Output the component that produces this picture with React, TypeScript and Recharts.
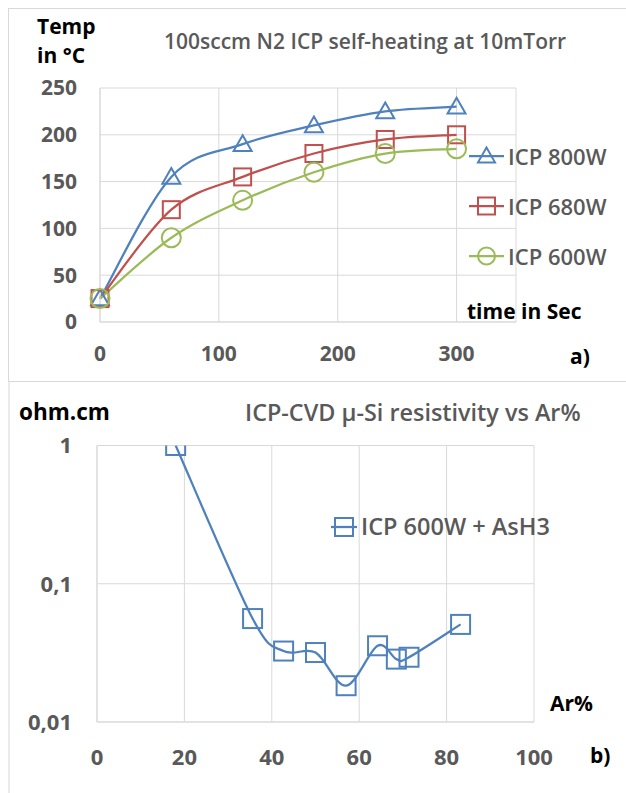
import { LineChart, Line, XAxis, YAxis, CartesianGrid, Legend } from "recharts";

// panel a) – N2 ICP self-heating
const times = [0, 60, 120, 180, 240, 300];
const temp800 = [25, 155, 190, 210, 225, 230];
const temp680 = [25, 120, 155, 180, 195, 200];
const temp600 = [25, 90, 130, 160, 180, 185];
const timeTicks = [0, 100, 200, 300];
const tempTicks = [0, 50, 100, 150, 200, 250];
const seriesNames = ["ICP 800W", "ICP 680W", "ICP 600W"];

// panel b) – resistivity vs Ar%
const arPercent = [18, 35.6, 42.7, 50, 57, 64.2, 68.5, 71.4, 83.2];
const resistivity = [1, 0.056, 0.0326, 0.0318, 0.0183, 0.0356, 0.0285, 0.0294, 0.0508];
const arTicks = [0, 20, 40, 60, 80, 100];
const resTicks = [0.01, 0.1, 1];

const BLUE = "#4F81BD";
const RED = "#C0504D";
const GREEN = "#9BBB59";
const GRID = "#D9D9D9";
const TEXT = "#595959";
const FONT = "'Open Sans', sans-serif";

const tempData = times.map((t, i) => ({
  t,
  w800: temp800[i],
  w680: temp680[i],
  w600: temp600[i],
}));

const resData = arPercent.map((ar, i) => ({ ar, res: resistivity[i] }));

// Excel-like smoothed line (Catmull-Rom through the points)
const excelCurve: any = (context: any) => {
  let pts: number[][] = [];
  return {
    areaStart() {},
    areaEnd() {},
    lineStart() {
      pts = [];
    },
    point(x: number, y: number) {
      pts.push([+x, +y]);
    },
    lineEnd() {
      const n = pts.length;
      if (!n) return;
      context.moveTo(pts[0][0], pts[0][1]);
      for (let i = 0; i < n - 1; i++) {
        const p0 = pts[Math.max(i - 1, 0)];
        const p1 = pts[i];
        const p2 = pts[i + 1];
        const p3 = pts[Math.min(i + 2, n - 1)];
        context.bezierCurveTo(
          p1[0] + (p2[0] - p0[0]) / 6,
          p1[1] + (p2[1] - p0[1]) / 6,
          p2[0] - (p3[0] - p1[0]) / 6,
          p2[1] - (p3[1] - p1[1]) / 6,
          p2[0],
          p2[1]
        );
      }
    },
  };
};

type Shape = "triangle" | "square" | "circle";

const Marker = ({ shape, cx, cy, color, size }: { shape: Shape; cx: number; cy: number; color: string; size: number }) => {
  const h = size / 2;
  if (shape === "triangle") {
    return (
      <path
        d={`M${cx},${cy - h} L${cx + h},${cy + h * 0.75} L${cx - h},${cy + h * 0.75} Z`}
        fill="none"
        stroke={color}
        strokeWidth={2}
      />
    );
  }
  if (shape === "square") {
    return <rect x={cx - h} y={cy - h} width={size} height={size} fill="none" stroke={color} strokeWidth={2} />;
  }
  return <circle cx={cx} cy={cy} r={h} fill="none" stroke={color} strokeWidth={2} />;
};

const makeDot = (shape: Shape, color: string, size: number) => (props: any) => (
  <g key={`${shape}-${props.index}`}>
    <Marker shape={shape} cx={props.cx} cy={props.cy} color={color} size={size} />
  </g>
);

const shapeOf: Record<string, Shape> = {
  "ICP 800W": "triangle",
  "ICP 680W": "square",
  "ICP 600W": "circle",
  "ICP 600W + AsH3": "square",
};

const renderLegend =
  (rowHeight: number, lineLen: number, markerSize: number, fontSize: number) => (props: any) => {
    const items = [...(props.payload || [])].sort(
      (a: any, b: any) => seriesNames.indexOf(a.value) - seriesNames.indexOf(b.value)
    );
    return (
      <div style={{ fontFamily: FONT }}>
        {items.map((entry: any) => (
          <div key={entry.value} style={{ display: "flex", alignItems: "center", height: rowHeight }}>
            <svg width={lineLen + 4} height={24} style={{ display: "block" }}>
              <line x1={0} y1={12} x2={lineLen} y2={12} stroke={entry.color} strokeWidth={2.25} />
              <Marker shape={shapeOf[entry.value]} cx={lineLen / 2} cy={12} color={entry.color} size={markerSize} />
            </svg>
            <span style={{ fontSize, fontWeight: 600, color: TEXT, lineHeight: 1, whiteSpace: "nowrap" }}>
              {entry.value}
            </span>
          </div>
        ))}
      </div>
    );
  };

const Label = ({
  text,
  x,
  cy,
  size = 21,
  weight = 700,
  color = "#000",
}: {
  text: string;
  x: number;
  cy: number;
  size?: number;
  weight?: number;
  color?: string;
}) => (
  <div
    style={{
      position: "absolute",
      left: x,
      top: cy - size * 0.58,
      fontSize: size,
      lineHeight: 1,
      fontWeight: weight,
      color,
      fontFamily: FONT,
      whiteSpace: "nowrap",
    }}
  >
    {text}
  </div>
);

const tickStyleA = { fill: TEXT, fontSize: 21, fontFamily: FONT, fontWeight: 700 };
const tickStyleB = { fill: TEXT, fontSize: 22, fontFamily: FONT, fontWeight: 700 };

const App = () => {
  return (
    <div
      style={{
        position: "absolute",
        left: 0,
        top: 0,
        width: 626,
        height: 793,
        overflow: "hidden",
        background: "#fff",
        fontFamily: FONT,
      }}
    >
      {/* panel frames */}
      <div style={{ position: "absolute", left: 8, top: 8, width: 700, height: 372, border: `1px solid ${GRID}` }} />
      <div style={{ position: "absolute", left: 8, top: 382, width: 700, height: 500, borderLeft: `2px solid #EBEBEB` }} />

      <div style={{ position: "absolute", left: 0, top: 0 }}>
        <LineChart width={626} height={380} data={tempData} margin={{ top: 88, right: 110, bottom: 28, left: 40 }}>
          <CartesianGrid stroke={GRID} strokeWidth={1} />
          <XAxis
            dataKey="t"
            type="number"
            domain={[0, 350]}
            ticks={timeTicks}
            height={30}
            tickLine={false}
            axisLine={{ stroke: GRID }}
            tickMargin={18}
            tick={tickStyleA}
          />
          <YAxis
            type="number"
            domain={[0, 250]}
            ticks={tempTicks}
            width={60}
            tickLine={false}
            axisLine={{ stroke: GRID }}
            tickMargin={17}
            tick={tickStyleA}
          />
          <Legend
            layout="vertical"
            align="center"
            verticalAlign="middle"
            wrapperStyle={{ left: 469, top: 131, width: 157 }}
            content={renderLegend(50, 35, 17, 22)}
          />
          <Line
            dataKey="w800"
            name={seriesNames[0]}
            stroke={BLUE}
            strokeWidth={2.25}
            type={excelCurve}
            dot={makeDot("triangle", BLUE, 18)}
            isAnimationActive={false}
          />
          <Line
            dataKey="w680"
            name={seriesNames[1]}
            stroke={RED}
            strokeWidth={2.25}
            type={excelCurve}
            dot={makeDot("square", RED, 17)}
            isAnimationActive={false}
          />
          <Line
            dataKey="w600"
            name={seriesNames[2]}
            stroke={GREEN}
            strokeWidth={2.25}
            type={excelCurve}
            dot={makeDot("circle", GREEN, 19)}
            isAnimationActive={false}
          />
        </LineChart>
      </div>

      <div style={{ position: "absolute", left: 0, top: 383 }}>
        <LineChart width={626} height={410} data={resData} margin={{ top: 62.5, right: 92, bottom: 41, left: 37 }}>
          <CartesianGrid stroke={GRID} strokeWidth={1} />
          <XAxis
            dataKey="ar"
            type="number"
            domain={[0, 100]}
            ticks={arTicks}
            height={30}
            tickLine={false}
            axisLine={{ stroke: GRID }}
            tickMargin={21.5}
            tick={tickStyleB}
          />
          <YAxis
            type="number"
            scale="log"
            domain={[0.01, 1]}
            ticks={resTicks}
            allowDataOverflow
            width={60}
            tickLine={false}
            axisLine={{ stroke: GRID }}
            tickMargin={19}
            tick={tickStyleB}
            tickFormatter={(v: number) => String(v).replace(".", ",")}
          />
          <Legend
            layout="vertical"
            align="center"
            verticalAlign="middle"
            wrapperStyle={{ left: 331, top: 129, width: 280 }}
            content={renderLegend(30, 26, 18, 23.5)}
          />
          <Line
            dataKey="res"
            name="ICP 600W + AsH3"
            stroke={BLUE}
            strokeWidth={2.25}
            type={excelCurve}
            dot={makeDot("square", BLUE, 19)}
            isAnimationActive={false}
          />
        </LineChart>
      </div>

      <Label text="Temp" x={37} cy={28} />
      <Label text="in °C" x={37} cy={57} />
      <Label text="100sccm N2 ICP self-heating at 10mTorr" x={164} cy={43} size={21} weight={600} color={TEXT} />
      <Label text="time in Sec" x={467} cy={313} />
      <Label text="a)" x={570} cy={358} />

      <Label text="ohm.cm" x={19} cy={414} size={22.5} />
      <Label text="ICP-CVD µ-Si resistivity vs Ar%" x={245} cy={415} size={23.4} weight={600} color={TEXT} />
      <Label text="Ar%" x={550} cy={705} />
      <Label text="b)" x={590} cy={757} />
    </div>
  );
};

export default App;
